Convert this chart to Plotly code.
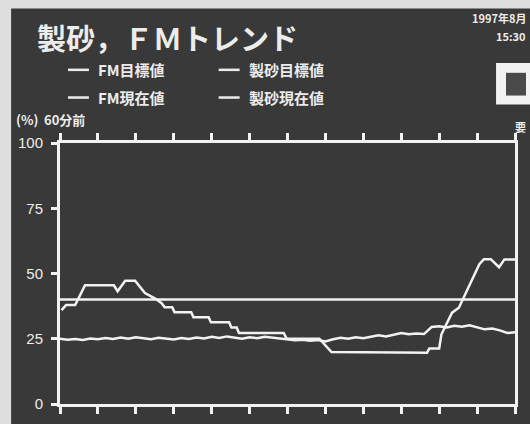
import plotly.graph_objects as go

# ---------------- data ----------------
x_tick_minutes = list(range(-60, 1, 5))          # 60 minutes ago ... now
y_tick_values = [0, 25, 50, 75, 100]
y_tick_labels = ["0", "25", "50", "75", "100"]

series_names = ["FM目標値", "FM現在値", "製砂目標値", "製砂現在値"]

fm_target_t = [-60, 0]
fm_target = [40.0, 40.0]

fm_current_t = list(range(-60, 1))
fm_current = [25.0, 24.6, 24.9, 24.5, 25.1, 24.8, 25.3, 24.9, 25.5, 25.0,
              25.6, 25.2, 24.8, 25.4, 25.0, 24.7, 25.3, 24.9, 25.5, 25.1,
              25.8, 25.3, 25.9, 25.4, 25.0, 25.6, 25.2, 25.8, 25.4, 25.0,
              24.8, 24.4, 24.6, 24.2, 24.5, 24.0, 24.8, 25.4, 25.0, 25.6,
              25.2, 25.8, 26.3, 25.9, 26.6, 27.2, 26.7, 27.0, 26.8, 29.5,
              29.8, 29.3, 30.0, 29.6, 30.2, 29.4, 28.6, 28.9, 28.2, 27.2,
              27.5]

sand_target_t = [-59.8, -59.2, -58.0, -56.7, -52.9, -52.4, -51.4, -50.1, -48.8,
                 -47.5, -46.6, -46.2, -45.2, -44.9, -42.7, -42.4, -40.4, -40.1,
                 -37.7, -37.4, -36.7, -36.4, -30.5, -30.1, -25.8, -24.2, -11.6,
                 -11.3, -10.0, -9.7, -8.3, -7.4, -4.7, -4.1, -3.2, -2.1, -1.4, 0.0]
sand_target = [36.0, 37.9, 37.9, 45.5, 45.5, 43.2, 47.2, 47.2, 42.5,
               40.5, 38.6, 37.1, 37.1, 35.2, 35.2, 33.2, 33.2, 31.3,
               31.3, 29.3, 29.3, 27.2, 27.2, 25.0, 25.0, 19.9, 19.6,
               21.3, 21.3, 26.7, 35.0, 36.9, 53.6, 55.5, 55.5, 52.4, 55.4, 55.4]

# ---------------- layout helpers ----------------
W, H = 530, 424
L, R, T, B = 60, 14, 143, 17
PW, PH = W - L - R, H - T - B


def PX(x):
    return (x - L) / PW


def PY(y):
    return (H - B - y) / PH


BG = "#393939"
FG = "#ececec"
LINE = "#f2f2f2"
JP = "Noto Sans CJK JP, Noto Sans, sans-serif"
NUM = "Liberation Sans Narrow, Liberation Sans, Arial, sans-serif"

fig = go.Figure()
fig.add_trace(go.Scatter(x=fm_target_t, y=fm_target, mode="lines", name=series_names[0],
                         line=dict(color=LINE, width=2.5)))
fig.add_trace(go.Scatter(x=fm_current_t, y=fm_current, mode="lines", name=series_names[1],
                         line=dict(color=LINE, width=2.5)))
fig.add_trace(go.Scatter(x=sand_target_t, y=sand_target, mode="lines", name=series_names[2],
                         line=dict(color=LINE, width=2.5)))

annotations = []
shapes = []


def txt(x, y, s, size, font=JP, color=FG, anchor="left"):
    annotations.append(dict(x=PX(x), y=PY(y), xref="paper", yref="paper", text=s,
                            showarrow=False, xanchor=anchor, yanchor="middle",
                            font=dict(family=font, size=size, color=color)))


def legend_item(x, y, name):
    shapes.append(dict(type="line", xref="paper", yref="paper",
                       x0=PX(x), x1=PX(x + 21), y0=PY(y), y1=PY(y),
                       line=dict(color=FG, width=2.5)))
    txt(x + 28, y, "<b>" + name + "</b>", 15)


# title
txt(35, 36, "<b>製砂，ＦＭトレンド</b>", 29)
# legend
legend_item(68, 69, series_names[0])
legend_item(68, 97, series_names[1])
legend_item(219, 69, series_names[2])
legend_item(219, 97, series_names[3])
# date / time (top right corner)
txt(529, 17, "<b>1997年8月</b>", 11, anchor="right")
txt(529, 35, "<b>15:30</b>", 11, anchor="right")
# unit and time label
txt(14, 119, "<b>(%)</b>", 13)
txt(42, 119, "<b>60分前</b>", 13)
txt(514, 127, "<b>要</b>", 11)

shapes += [
    # paper margins around the photographed screen
    dict(type="rect", xref="paper", yref="paper", x0=PX(-5), x1=PX(11), y0=PY(430), y1=PY(-5),
         fillcolor="#dedede", line=dict(width=0), layer="above"),
    dict(type="rect", xref="paper", yref="paper", x0=PX(-5), x1=PX(535), y0=PY(7), y1=PY(-5),
         fillcolor="#dedede", line=dict(width=0), layer="above"),
    # button at the right
    dict(type="rect", xref="paper", yref="paper", x0=PX(497), x1=PX(540), y0=PY(104), y1=PY(62),
         fillcolor="#f2f2f2", line=dict(width=0), layer="above"),
    dict(type="rect", xref="paper", yref="paper", x0=PX(507), x1=PX(527), y0=PY(95), y1=PY(72),
         fillcolor="#4a4a4a", line=dict(width=0), layer="above"),
]

fig.update_layout(
    width=W, height=H,
    margin=dict(l=L, r=R, t=T, b=B),
    paper_bgcolor=BG, plot_bgcolor=BG,
    showlegend=False,
    annotations=annotations,
    shapes=shapes,
    xaxis=dict(range=[-60, 0], tickvals=x_tick_minutes, showticklabels=False,
               ticks="outside", ticklen=7, tickwidth=2.5, tickcolor=LINE,
               showline=True, linewidth=3, linecolor=LINE, mirror="ticks",
               showgrid=False, zeroline=False, fixedrange=True),
    yaxis=dict(range=[0, 100], tickvals=y_tick_values, ticktext=y_tick_labels,
               ticks="outside", ticklen=6, tickwidth=2.5, tickcolor=LINE,
               showline=True, linewidth=3, linecolor=LINE, mirror=True,
               showgrid=False, zeroline=False, ticklabelstandoff=5,
               tickfont=dict(family=NUM, size=15, color=FG), fixedrange=True),
)

fig.write_html("out.html", config={"displayModeBar": False},
               post_script="document.body.style.margin='0';document.body.style.overflow='hidden';")
